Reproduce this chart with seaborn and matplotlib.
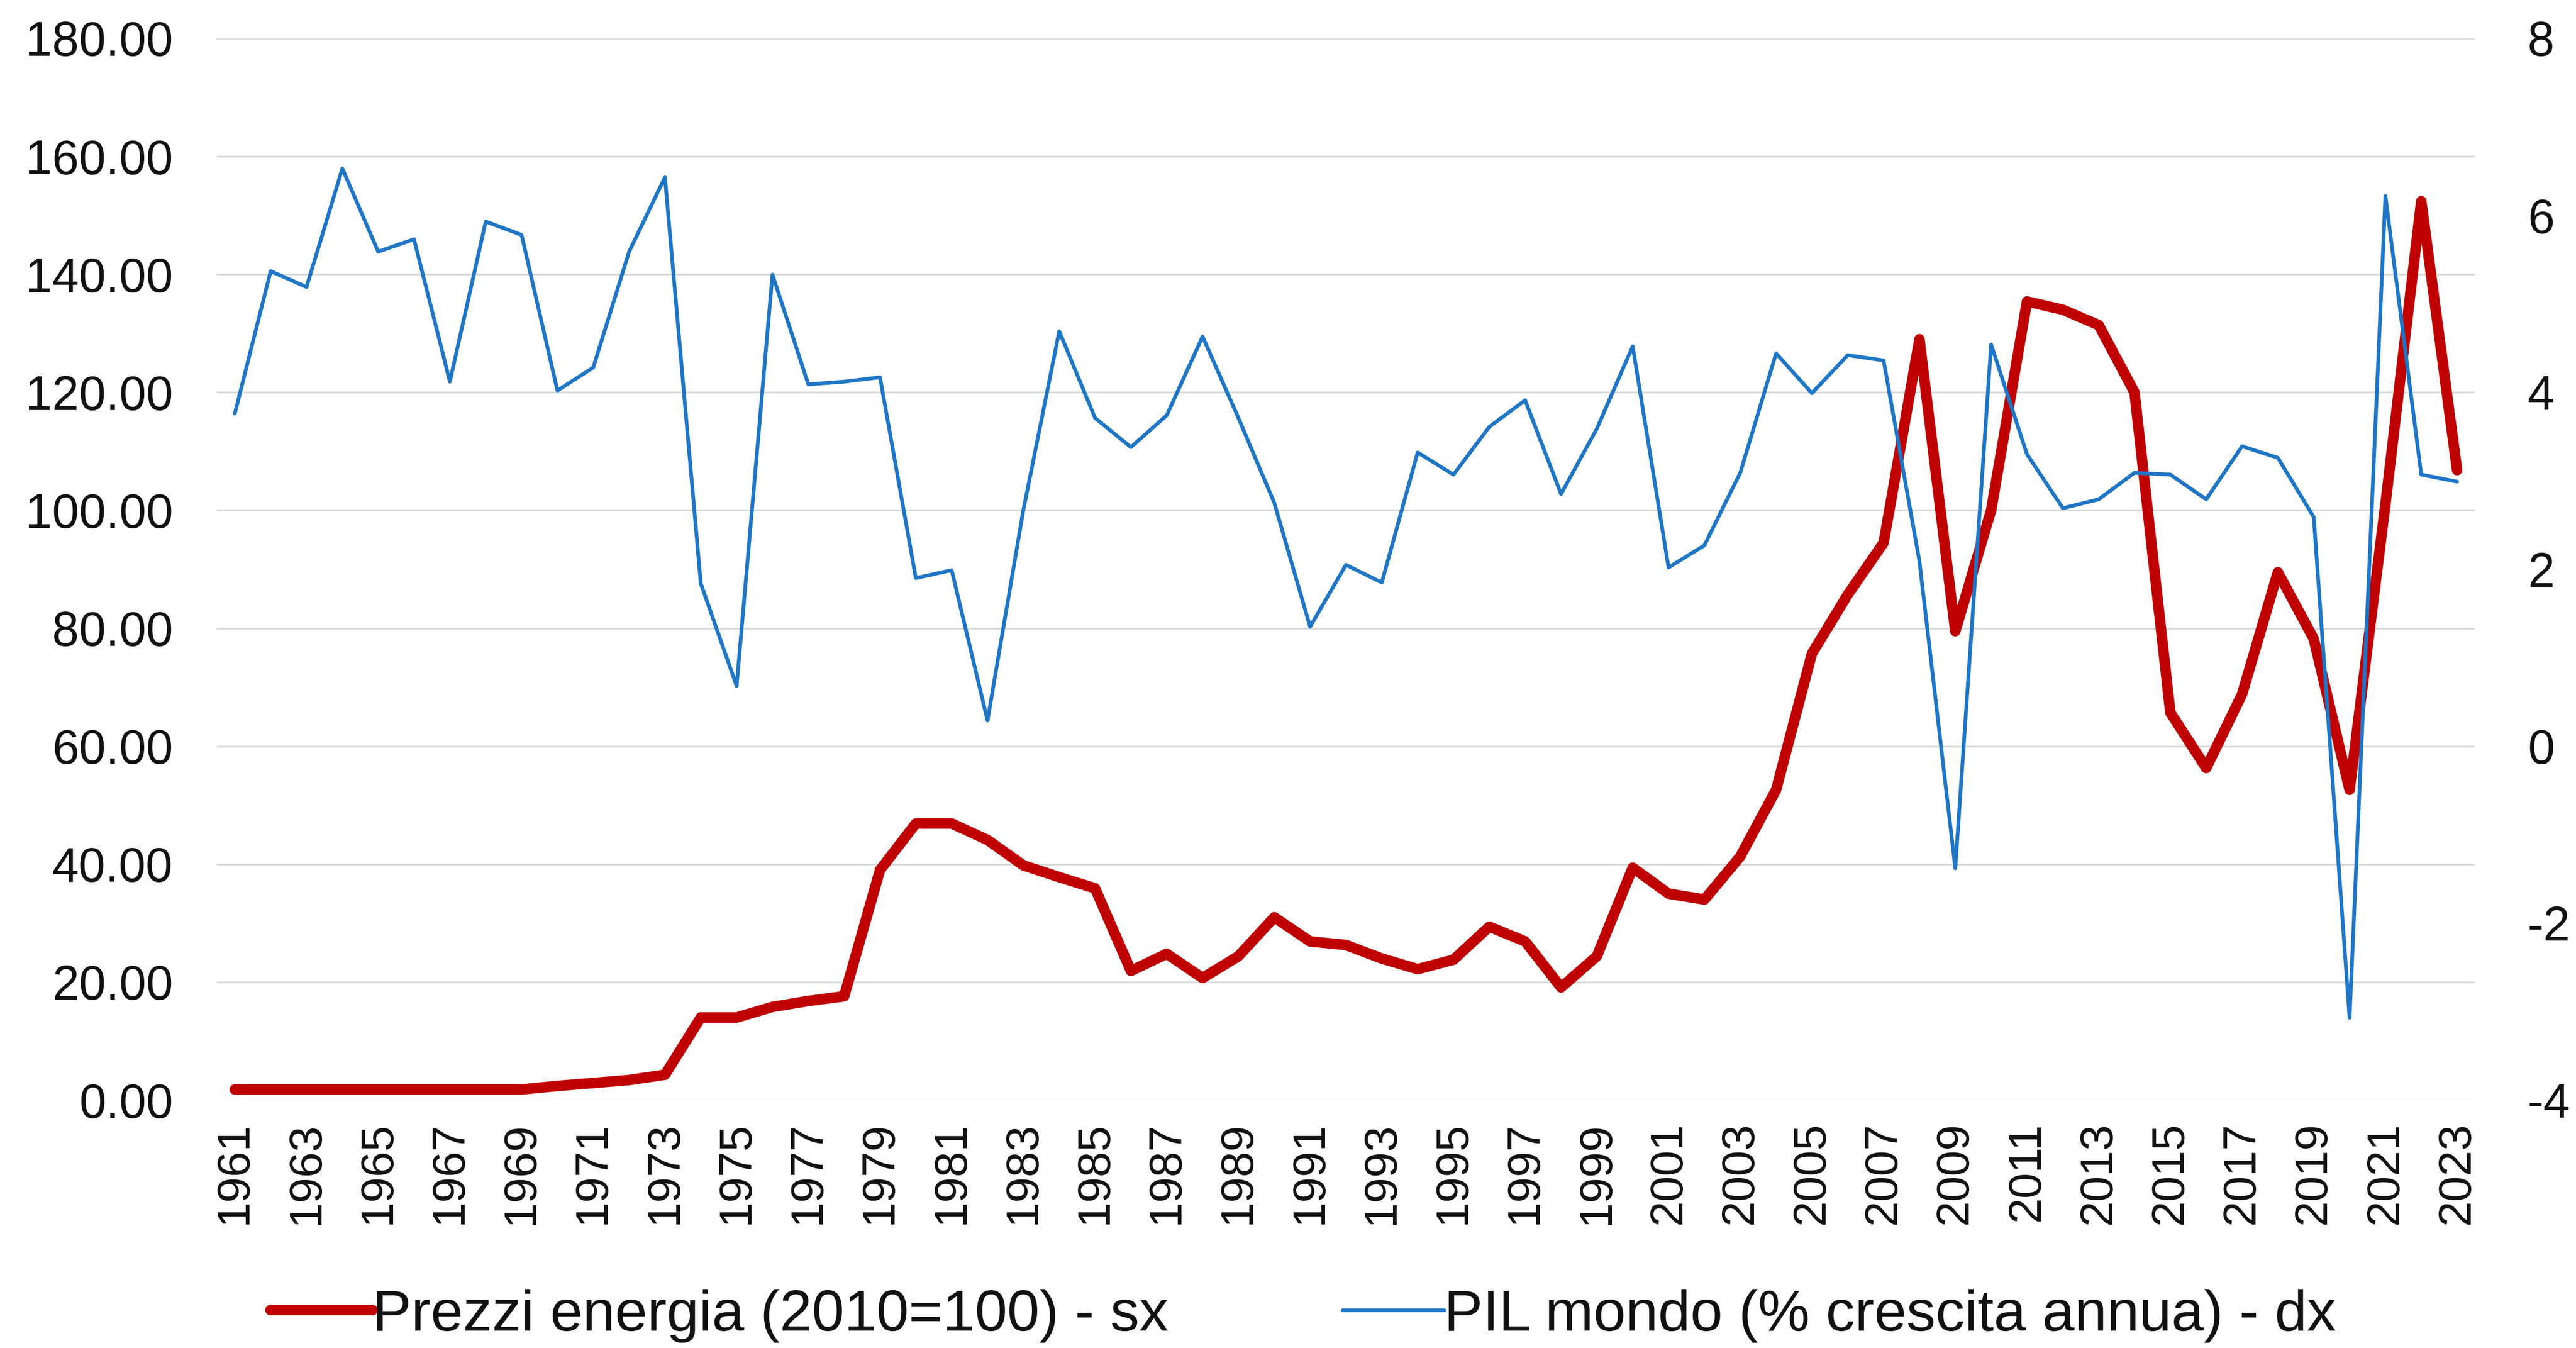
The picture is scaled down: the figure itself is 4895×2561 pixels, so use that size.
"""
Prezzi energia vs PIL mondo, 1961-2023 (doppio asse)
"""
import numpy as np
import pandas as pd
import matplotlib
matplotlib.use("Agg")
import matplotlib.pyplot as plt
import seaborn as sns
from matplotlib.ticker import FormatStrFormatter, FixedLocator

# ── Data ─────────────────────────────────────────────────────────────────────
years = list(range(1961, 2024))

energy_prices = [1.8, 1.8, 1.8, 1.8, 1.8, 1.8, 1.8, 1.8, 1.8,
                 2.4, 2.9, 3.4, 4.3, 14.0, 14.0, 15.8, 16.8, 17.6, 39.0,
                 46.9, 46.9, 44.1, 39.8, 37.8, 35.9, 21.9, 24.8, 20.7, 24.4,
                 31.0, 26.9, 26.3, 24.0, 22.2, 23.8, 29.4, 26.9, 19.1, 24.4,
                 39.4, 35.0, 34.0, 41.3, 52.6, 75.7, 85.7, 94.5, 129.0, 79.5,
                 100.0, 135.4, 134.0, 131.4, 120.0, 65.7, 56.3, 68.8, 89.5, 78.2,
                 52.6, 101.0, 152.4, 106.8]

gdp_growth = [3.76, 5.37, 5.19, 6.53, 5.59, 5.73, 4.12, 5.93, 5.78,
              4.02, 4.28, 5.59, 6.43, 1.84, 0.68, 5.33, 4.09, 4.12, 4.17,
              1.90, 1.99, 0.29, 2.67, 4.69, 3.71, 3.38, 3.74, 4.63, 3.71,
              2.75, 1.35, 2.05, 1.85, 3.32, 3.07, 3.61, 3.91, 2.85, 3.59,
              4.52, 2.02, 2.27, 3.09, 4.44, 3.99, 4.42, 4.36, 2.09, -1.38,
              4.54, 3.30, 2.69, 2.79, 3.09, 3.07, 2.79, 3.39, 3.26, 2.59,
              -3.07, 6.22, 3.07, 2.99]

label_energy = "Prezzi energia (2010=100) - sx"
label_gdp = "PIL mondo (% crescita annua) - dx"

df = pd.DataFrame({"year": years, "energy": energy_prices, "gdp": gdp_growth})

RED = "#C00000"
BLUE = "#1F76C6"
GRID = "#D9D9D9"
TXT = "#111111"

sns.set_theme(style="white")
plt.rcParams["font.family"] = ["Liberation Sans", "DejaVu Sans"]
plt.rcParams["axes.unicode_minus"] = False

fig = plt.figure(figsize=(4895 / 300, 2561 / 300), dpi=300)
ax = fig.add_axes([0.0842, 0.1839, 0.9608 - 0.0842, 0.9715 - 0.1839])
ax2 = ax.twinx()

sns.lineplot(data=df, x="year", y="energy", ax=ax, color=RED, linewidth=4.8,
             label=label_energy, legend=False, solid_joinstyle="round",
             solid_capstyle="round")
sns.lineplot(data=df, x="year", y="gdp", ax=ax2, color=BLUE, linewidth=1.7,
             label=label_gdp, legend=False, solid_joinstyle="round")

# ── Axes ─────────────────────────────────────────────────────────────────────
ax.set_xlim(1960.5, 2023.5)
ax.set_ylim(0, 180)
ax2.set_ylim(-4, 8)
ax.set_yticks(np.arange(0, 181, 20))
ax2.set_yticks(np.arange(-4, 9, 2))
ax.yaxis.set_major_formatter(FormatStrFormatter("%.2f"))
ax.xaxis.set_major_locator(FixedLocator(years[::2]))
ax.set_xticklabels([str(y) for y in years[::2]], rotation=90)

ax.grid(axis="y", color=GRID, linewidth=0.8)
ax.set_axisbelow(True)
ax2.grid(False)
for a in (ax, ax2):
    for s in a.spines.values():
        s.set_visible(False)
    a.set_xlabel("")
    a.set_ylabel("")
ax.tick_params(axis="y", length=0, pad=20, labelsize=22, colors=TXT)
ax.tick_params(axis="x", length=0, pad=10, labelsize=21, colors=TXT)
ax2.tick_params(axis="y", length=0, pad=24, labelsize=22, colors=TXT)

# ── Legend ───────────────────────────────────────────────────────────────────
h1, l1 = ax.get_legend_handles_labels()
h2, l2 = ax2.get_legend_handles_labels()
leg = fig.legend(h1 + h2, l1 + l2, loc="center", bbox_to_anchor=(0.506, 0.024),
                 ncol=2, frameon=False, fontsize=26.5, handlelength=1.75,
                 handletextpad=0.0, columnspacing=3.0)
for t in leg.get_texts():
    t.set_color(TXT)

fig.savefig("out.png", dpi=300, facecolor="white")
plt.close(fig)
print("Saved: out.png")
